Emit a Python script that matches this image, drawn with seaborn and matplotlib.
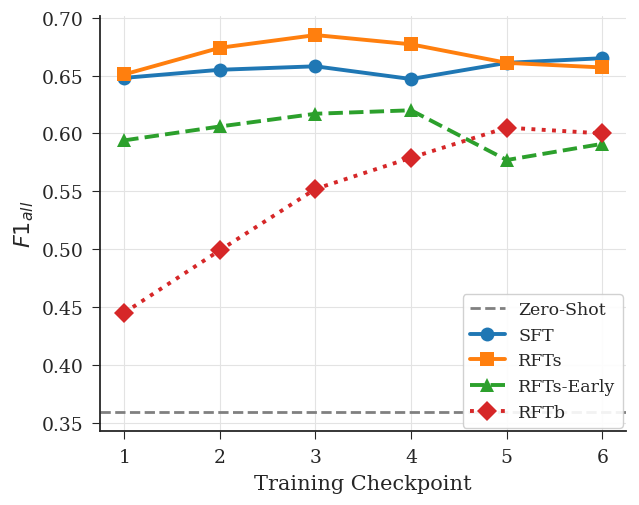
import matplotlib
matplotlib.use("Agg")
import matplotlib.pyplot as plt
import pandas as pd
import seaborn as sns

checkpoints = [1, 2, 3, 4, 5, 6]
sft = [0.648, 0.655, 0.658, 0.647, 0.661, 0.665]
rfts = [0.651, 0.674, 0.685, 0.677, 0.661, 0.657]
rfts_early = [0.594, 0.606, 0.617, 0.620, 0.577, 0.591]
rftb = [0.445, 0.499, 0.552, 0.579, 0.605, 0.600]
zero_shot = 0.359

sns.set_style("ticks")
plt.rcParams["font.family"] = ["DejaVu Serif"]
plt.rcParams["mathtext.fontset"] = "dejavusans"

fig, ax = plt.subplots(figsize=(6.39, 5.06), dpi=100)

ax.axhline(zero_shot, color="gray", linestyle="--", linewidth=2, label="Zero-Shot")

series = [
    ("SFT", sft, "#1f77b4", "o", "-"),
    ("RFTs", rfts, "#ff7f0e", "s", "-"),
    ("RFTs-Early", rfts_early, "#2ca02c", "^", "--"),
    ("RFTb", rftb, "#d62728", "D", ":"),
]
for name, vals, col, mk, ls in series:
    df = pd.DataFrame({"x": checkpoints, "y": vals})
    sns.lineplot(data=df, x="x", y="y", ax=ax, color=col, marker=mk,
                 linestyle=ls, linewidth=2.8, markersize=10,
                 markeredgewidth=0, label=name)

ax.set_xticks(checkpoints)
ax.set_xlabel("Training Checkpoint", fontsize=15, labelpad=6)
ax.set_ylabel("$F1_{all}$", fontsize=16)
ax.tick_params(labelsize=13.5, length=6, pad=6)
ax.grid(True, color="#e3e3e3", linewidth=0.8)
ax.set_axisbelow(True)
sns.despine(ax=ax)
for s in ["left", "bottom"]:
    ax.spines[s].set_linewidth(1.3)
ax.legend(loc="lower right", fontsize=12.5, framealpha=0.9, handlelength=2.0,
          borderpad=0.4, labelspacing=0.5, borderaxespad=0.2)

fig.subplots_adjust(left=0.157, right=0.98, bottom=0.146, top=0.966)
fig.savefig("out.png", dpi=100)
